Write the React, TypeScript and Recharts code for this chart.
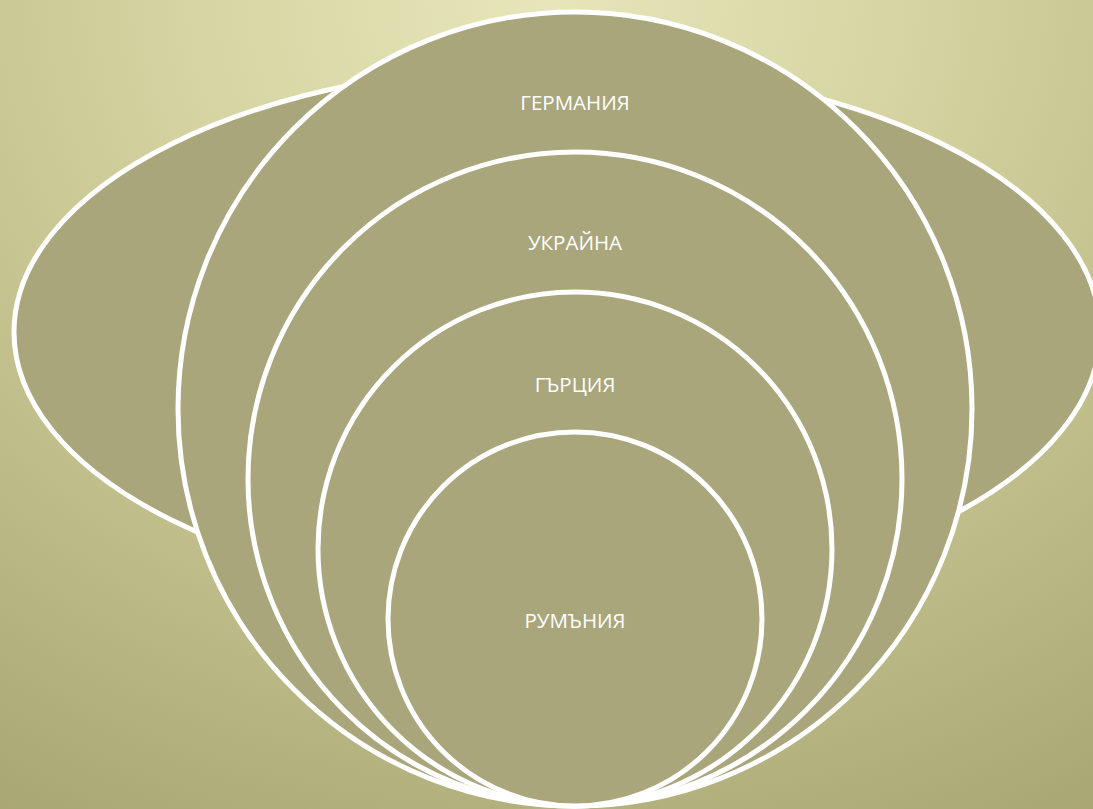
import React from 'react';
import { ScatterChart, Scatter, XAxis, YAxis } from 'recharts';

const W = 1093;
const H = 809;

// back ellipse (centre + radii in page units)
const ovalX = [557];
const ovalY = [332];
const ovalRx = [543];
const ovalRy = [267];

// nested circles, largest first
const countries = ['ГЕРМАНИЯ', 'УКРАЙНА', 'ГЪРЦИЯ', 'РУМЪНИЯ'];
const circleX = [575, 575, 575, 575];
const circleY = [409, 479, 549, 619];
const circleR = [397, 327, 257, 187];
const labelY = [102, 242, 384, 620];

const FILL = '#a9a67c';
const STROKE = '#ffffff';

const ovalData = ovalX.map((x, i) => ({ x, y: ovalY[i], rx: ovalRx[i], ry: ovalRy[i] }));
const circleData = countries.map((name, i) => ({ x: circleX[i], y: circleY[i], r: circleR[i], name }));
const labelData = countries.map((name, i) => ({ x: circleX[i], y: labelY[i], name }));

// pixels per data unit (domain matches the plot size)
const kx = W / W;
const ky = H / H;

const OvalShape = (props: any) => {
  const { cx, cy, payload } = props;
  return <ellipse cx={cx} cy={cy} rx={payload.rx * kx} ry={payload.ry * ky} fill={FILL} stroke={STROKE} strokeWidth={5} />;
};

const CircleShape = (props: any) => {
  const { cx, cy, payload } = props;
  return <circle cx={cx} cy={cy} r={payload.r * kx} fill={FILL} stroke={STROKE} strokeWidth={5} />;
};

const LabelShape = (props: any) => {
  const { cx, cy, payload } = props;
  return (
    <text x={cx} y={cy} textAnchor="middle" dominantBaseline="central" fill="#ffffff"
      fontFamily="'Open Sans', sans-serif" fontSize={20.5}>
      {payload.name}
    </text>
  );
};

export default function App() {
  return (
    <div style={{
      position: 'absolute', left: 0, top: 0, width: W, height: H, overflow: 'hidden',
      background: 'radial-gradient(ellipse 110% 130% at 50% 0%, #e7e6ba 0%, #d2d19e 35%, #a19e6b 100%)',
    }}>
      <ScatterChart width={W} height={H} margin={{ top: 0, right: 0, bottom: 0, left: 0 }}>
        <XAxis type="number" dataKey="x" domain={[0, W]} hide />
        <YAxis type="number" dataKey="y" domain={[0, H]} reversed hide />
        <Scatter data={ovalData} shape={OvalShape} isAnimationActive={false} />
        <Scatter data={circleData} shape={CircleShape} isAnimationActive={false} />
        <Scatter data={labelData} shape={LabelShape} isAnimationActive={false} />
      </ScatterChart>
    </div>
  );
}
